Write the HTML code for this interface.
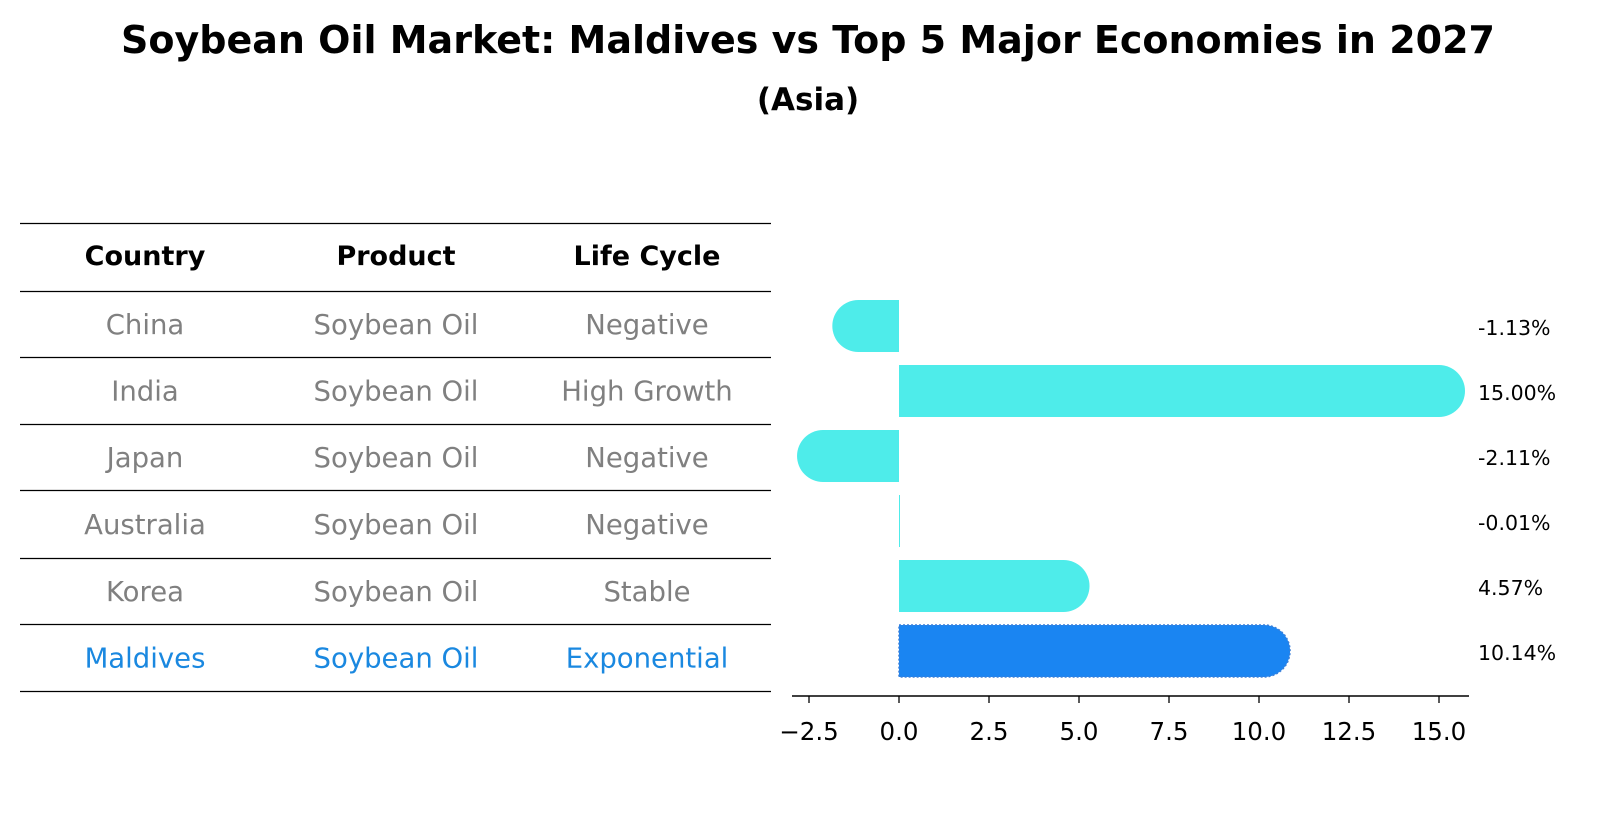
<!DOCTYPE html>
<html><head><meta charset="utf-8"><style>
body{margin:0;background:#fff;font-family:"DejaVu Sans","Liberation Sans",sans-serif;}
svg{display:block}
</style></head><body>
<svg width="1604" height="823" viewBox="0 0 1604 823" id="svg">
<text x="808" y="53" text-anchor="middle" font-size="38" font-weight="bold">Soybean Oil Market: Maldives vs Top 5 Major Economies in 2027</text>
<text x="808" y="110" text-anchor="middle" font-size="31" font-weight="bold">(Asia)</text>
<g id="table"></g>
<g id="bars"></g>
</svg>
<script>
const countries=["China","India","Japan","Australia","Korea","Maldives"];
const products=["Soybean Oil","Soybean Oil","Soybean Oil","Soybean Oil","Soybean Oil","Soybean Oil"];
const lifeCycles=["Negative","High Growth","Negative","Negative","Stable","Exponential"];
const values=[-1.13,15.00,-2.11,-0.01,4.57,10.14];
const ticks=[-2.5,0.0,2.5,5.0,7.5,10.0,12.5,15.0];
const NS="http://www.w3.org/2000/svg";
function mk(t,a,p){const e=document.createElementNS(NS,t);for(const k in a)e.setAttribute(k,a[k]);p.appendChild(e);return e;}
const tb=document.getElementById('table');
const lines=[223,291,357,424,490,558,624,691];
lines.forEach(y=>{const l=mk('line',{x1:20,x2:771,y1:y+0.5,y2:y+0.5,stroke:'#000','stroke-width':1.2},tb);

});
const cx=[145,396,647];
["Country","Product","Life Cycle"].forEach((h,i)=>{const t=mk('text',{x:cx[i],y:265,'text-anchor':'middle','font-size':27,'font-weight':'bold'},tb);t.textContent=h;

});
countries.forEach((c,r)=>{const y=(lines[r+1]+lines[r+2])/2+10;const col=r===5?'#1a88e0':'#808080';
[c,products[r],lifeCycles[r]].forEach((v,i)=>{const t=mk('text',{x:cx[i],y:y,'text-anchor':'middle','font-size':27.5,fill:col},tb);t.textContent=v;

});});
const g=document.getElementById('bars');
const x0=899,ppu=36,yAxis=696,rowH=65,barH=52,lastC=651;
const X=v=>x0+v*ppu;
const Y=i=>lastC-(values.length-1-i)*rowH;
values.forEach((v,i)=>{const cy=Y(i);const r=barH/2;const xe=X(v);const hi=i===5;
const col=hi?'#1a85f2':'#4eecea';
let d;
if(Math.abs(xe-x0)<1){d=`M${x0} ${cy-r}h1v${barH}h-1z`;}
else if(v>=0){d=`M${x0} ${cy-r}H${xe}A${r} ${r} 0 0 1 ${xe} ${cy+r}H${x0}Z`;}
else{d=`M${x0} ${cy-r}H${xe}A${r} ${r} 0 0 0 ${xe} ${cy+r}H${x0}Z`;}
const p=mk('path',{d:d,fill:col},g);
if(hi){p.setAttribute('stroke','#3b7fd8');p.setAttribute('stroke-dasharray','2 2');p.setAttribute('stroke-width','1.5');}


const t=mk('text',{x:1478,y:cy+9,'font-size':20.5},g);t.textContent=v.toFixed(2)+'%';

});
const ax=mk('line',{x1:792,x2:1469,y1:yAxis,y2:yAxis,stroke:'#000','stroke-width':1.5},g);


ticks.forEach(v=>{const tl=mk('line',{x1:X(v),x2:X(v),y1:yAxis,y2:yAxis+7,stroke:'#000','stroke-width':1.3},g);


const t=mk('text',{x:X(v),y:740,'text-anchor':'middle','font-size':24.5},g);t.textContent=(v<0?'\u2212':'')+Math.abs(v).toFixed(1);

});
</script>
</body></html>
